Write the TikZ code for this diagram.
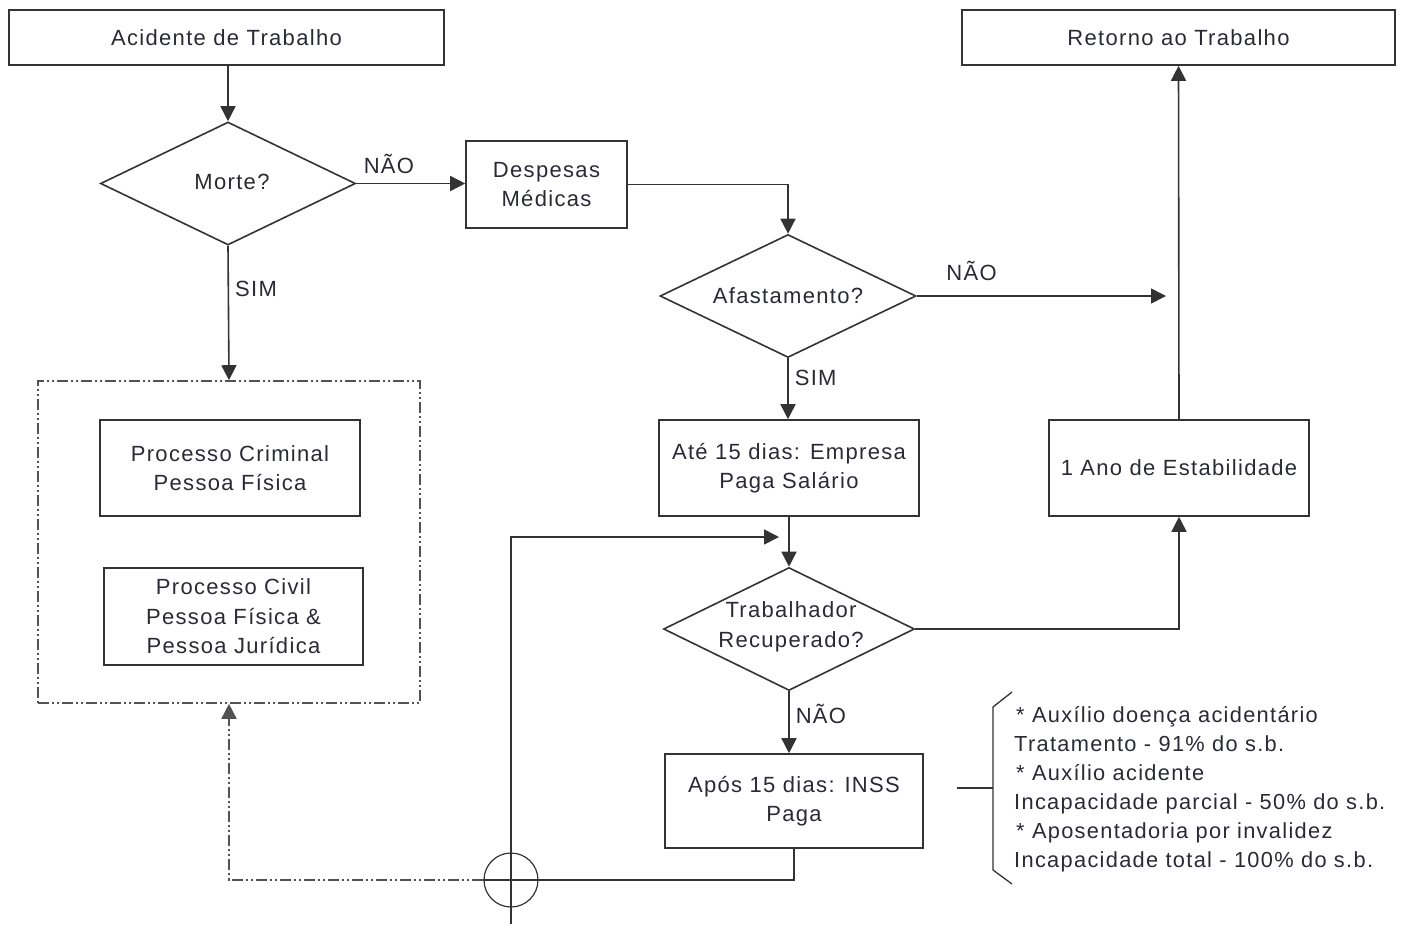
\documentclass[tikz,border=0pt]{standalone}
\usepackage{fontspec}
\setmainfont{Liberation Sans}[LetterSpace=6]
\usetikzlibrary{shapes.geometric,arrows.meta}
\definecolor{ink}{HTML}{333333}
\definecolor{txt}{HTML}{2A2A35}
\tikzset{
  every node/.style={text=txt, font=\fontsize{22}{29.5}\selectfont},
  box/.style={draw=ink, line width=1.6pt, rectangle, inner sep=0pt, align=center},
  dec/.style={draw=ink, line width=1.6pt, diamond, inner sep=0pt},
  lbl/.style={align=center, inner sep=0pt},
  arr/.style={draw=ink, line width=1.6pt, -{Triangle[length=15pt,width=15pt]}},
  ln/.style={draw=ink, line width=1.6pt},
  dashdot/.style={draw=ink!85, line width=1.6pt,
    dash pattern=on 11pt off 3pt on 2pt off 3pt on 2pt off 3pt},
}
\begin{document}
\begin{tikzpicture}[x=1pt,y=-1pt]
\useasboundingbox (0,0) rectangle (1403,924);

% top row
\node[box, minimum width=435, minimum height=55] (acid) at (226.5,37.5) {Acidente de Trabalho};
\node[box, minimum width=433, minimum height=55] (ret) at (1178.5,37.5) {Retorno ao Trabalho};

% death decision and legal processes
\node[dec, minimum width=255, minimum height=123] (morte) at (228,183.5) {};
\node[lbl] at (232,182) {Morte?};
\node[dashdot, minimum width=382, minimum height=322, inner sep=0pt] (grp) at (229,542) {};
\node[box, minimum width=260, minimum height=96] (crim) at (230,468) {Processo Criminal\\Pessoa Física};
\node[box, minimum width=259, minimum height=97] (civ) at (233.5,616.5) {Processo Civil\\Pessoa Física \&\\Pessoa Jurídica};

% medical branch
\node[box, minimum width=161, minimum height=87] (desp) at (546.5,184.5) {Despesas\\Médicas};
\node[dec, minimum width=256, minimum height=123] (afast) at (788,296) {};
\node[lbl] at (788,296) {Afastamento?};
\node[box, minimum width=260, minimum height=96] (ate) at (789,468) {Até 15 dias: Empresa\\Paga Salário};
\node[box, minimum width=260, minimum height=96] (ano) at (1179,468) {1 Ano de Estabilidade};
\node[dec, minimum width=251, minimum height=123] (trab) at (789,629) {};
\node[lbl] at (791,627) {Trabalhador\\Recuperado?};
\node[box, minimum width=258, minimum height=94] (apos) at (794,801) {Após 15 dias: INSS\\Paga};
\node[draw=ink, line width=1.2pt, circle, minimum size=54, inner sep=0pt] (circ) at (511,880) {};

% benefits list with brace
\node[align=left, anchor=west, inner sep=0pt, font=\fontsize{21.8}{28.9}\selectfont] (ben) at (1014,789)
  {\hspace*{2pt}* Auxílio doença acidentário\\Tratamento - 91\% do s.b.\\\hspace*{2pt}* Auxílio acidente\\Incapacidade parcial - 50\% do s.b.\\\hspace*{2pt}* Aposentadoria por invalidez\\Incapacidade total - 100\% do s.b.};
\draw[ink, line width=1.3pt] (1012,692) -- (993,707) -- (993,870) -- (1012,884);
\draw[ink, line width=1.3pt] (957,788) -- (993,788);

% connectors
\draw[arr] (morte.north |- acid.south) -- (morte.north);
\draw[arr] (morte.east) -- (morte.east -| desp.west) node[pos=0.3, above=9pt, inner sep=0pt] {NÃO};
\draw[arr] (morte.south) -- (grp.north) node[pos=0.32, right=6pt, inner sep=0pt] {SIM};
\draw[arr] (desp.east) -| (afast.north);
\coordinate (afastend) at (1166,296);
\draw[arr] (afast.east) -- (afastend) node[pos=0.22, above=14pt, inner sep=0pt] {NÃO};
\draw[arr] (afast.south) -- (afast.south |- ate.north) node[pos=0.33, right=6pt, inner sep=0pt] {SIM};
\draw[arr] (ate.south) -- (trab.north);
\draw[arr] (trab.east) -| (ano.south);
\draw[arr] (ano.north) -- (ret.south);
\draw[arr] (trab.south) -- (trab.south |- apos.north) node[pos=0.36, right=6pt, inner sep=0pt] {NÃO};

% return loop through the junction
\coordinate (loopin) at (779,537);
\coordinate (loopbot) at (511,924);
\draw[arr] (loopbot) -- (circ.center) |- (loopin);
\draw[ln] (apos.south) |- (circ.west);
\coordinate (dcorner) at (grp.south |- circ.west);
\draw[dashdot, -{Triangle[length=15pt,width=15pt]}] (circ.west) -- (dcorner) -- (grp.south);
\end{tikzpicture}
\end{document}
